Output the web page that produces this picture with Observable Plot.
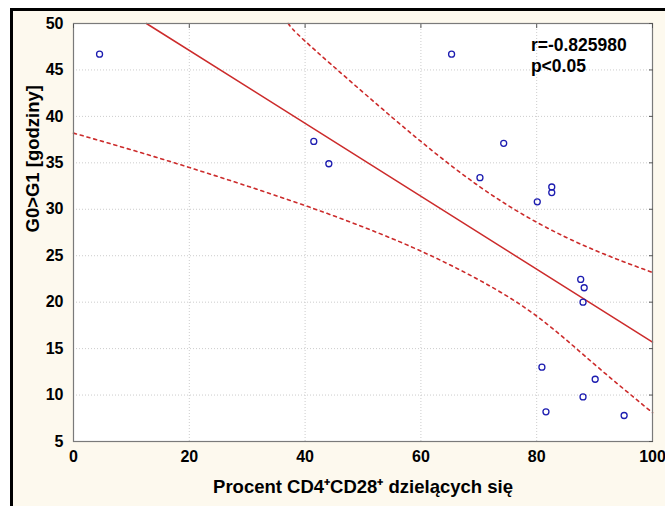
<!DOCTYPE html>
<html>
<head>
<meta charset="utf-8">
<script src="https://cdn.jsdelivr.net/npm/d3@7"></script>
<script src="https://cdn.jsdelivr.net/npm/@observablehq/plot@0.6"></script>
<style>
  html, body { margin: 0; padding: 0; background: #ffffff; }
  #wrap { position: relative; width: 665px; height: 506px; overflow: hidden; }
  #bg { position: absolute; left: 10px; top: 8px; width: 655px; height: 498px; box-sizing: border-box;
        background: #fdf9ee; border-left: 3px solid #000; border-top: 3px solid #000; }
  #chart { position: absolute; left: 0; top: 0; }
</style>
</head>
<body>
<div id="wrap"><div id="bg"></div><div id="chart"></div></div>
<script>
// Data
const xPct   = [4.5, 41.5, 44.1, 65.3, 70.2, 74.3, 80.1, 82.6, 82.6, 87.6, 88.2, 88.0, 80.9, 90.1, 88.0, 81.6, 95.1];
const yHours = [46.7, 37.3, 34.9, 46.7, 33.4, 37.1, 30.8, 32.4, 31.8, 22.45, 21.55, 20.0, 13.0, 11.7, 9.8, 8.2, 7.8];

const fitX = [12.6, 100];
const fitY = [50, 15.7];
const upperX = [37.1, 40, 50, 60, 70, 80, 90, 100];
const upperY = [50, 48.1, 42.6, 37.3, 32.5, 28.6, 25.6, 23.2];
const lowerX = [0, 10, 20, 30, 40, 50, 60, 70, 80, 90, 100];
const lowerY = [38.2, 36.4, 34.5, 32.5, 30.4, 28.1, 25.5, 22.4, 18.5, 13.3, 8.1];

const xTicks = [0, 20, 40, 60, 80, 100];
const yTicks = [5, 10, 15, 20, 25, 30, 35, 40, 45, 50];
const xTitle = "Procent CD4\u207ACD28\u207A dzielących się";
const yTitle = "G0>G1 [godziny]";
const annotation = ["r=-0.825980", "p<0.05"];
const annX = [79, 79];
const annY = [47.6, 45.35];

const pts = xPct.map((x, i) => ({x, y: yHours[i]}));
const fit = fitX.map((x, i) => ({x, y: fitY[i]}));
const upper = upperX.map((x, i) => ({x, y: upperY[i]}));
const lower = lowerX.map((x, i) => ({x, y: lowerY[i]}));
const ann = annotation.map((t, i) => ({t, x: annX[i], y: annY[i]}));

const red = "#cc2b2b";
const font = "Liberation Sans, Arial, sans-serif";

const chart = Plot.plot({
  width: 665,
  height: 506,
  marginTop: 23,
  marginRight: 13,
  marginBottom: 65,
  marginLeft: 73,
  style: { background: "transparent", fontFamily: font, fontWeight: "bold", fontSize: "16px", color: "#000", overflow: "visible" },
  x: { domain: [0, 100] },
  y: { domain: [5, 50] },
  marks: [
    Plot.frame({ fill: "white", stroke: "none" }),
    Plot.gridX(xTicks, { stroke: "#cccccc", strokeOpacity: 1, strokeDasharray: "1,2" }),
    Plot.gridY(yTicks, { stroke: "#cccccc", strokeOpacity: 1, strokeDasharray: "1,2" }),
    Plot.line(upper, { x: "x", y: "y", stroke: red, strokeWidth: 1.6, strokeDasharray: "3,4", curve: "natural" }),
    Plot.line(lower, { x: "x", y: "y", stroke: red, strokeWidth: 1.6, strokeDasharray: "3,4", curve: "natural" }),
    Plot.line(fit, { x: "x", y: "y", stroke: red, strokeWidth: 1.5 }),
    Plot.dot(pts, { x: "x", y: "y", r: 3, stroke: "#1c1cb0", strokeWidth: 1.3, fill: "none" }),
    Plot.frame({ stroke: "#7a7a7a", strokeWidth: 1.2 }),
    Plot.axisX(xTicks, { anchor: "bottom", tickSize: 0, tickPadding: 9, fontSize: 16, fontWeight: "bold", label: null }),
    Plot.axisY(yTicks, { anchor: "left", tickSize: 0, tickPadding: 10, fontSize: 16, fontWeight: "bold", label: null }),
    Plot.axisX(xTicks, { anchor: "top", tickSize: -4, stroke: "#555", tickFormat: () => "", label: null }),
    Plot.axisY(yTicks, { anchor: "right", tickSize: -4, stroke: "#555", tickFormat: () => "", label: null }),
    Plot.text([xTitle], { frameAnchor: "bottom", dy: 51, fontSize: 18.5, fontWeight: "bold", fill: "#000" }),
    Plot.text([yTitle], { frameAnchor: "left", dx: -40, rotate: -90, fontSize: 18.5, fontWeight: "bold", fill: "#000" }),
    Plot.text(ann, { x: "x", y: "y", text: "t", textAnchor: "start", fontSize: 17.5, fontWeight: "bold", fill: "#000" })
  ]
});
document.getElementById("chart").appendChild(chart);
</script>
</body>
</html>
